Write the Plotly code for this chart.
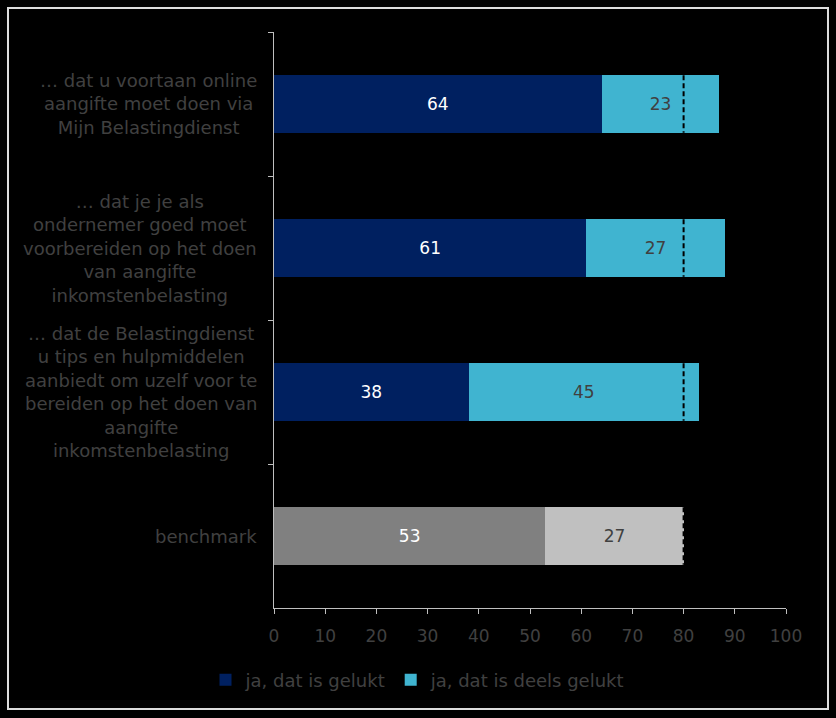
import plotly.graph_objects as go

categories = [
    "… dat u voortaan online<br>aangifte moet doen via<br>Mijn Belastingdienst",
    "… dat je je als<br>ondernemer goed moet<br>voorbereiden op het doen<br>van aangifte<br>inkomstenbelasting",
    "… dat de Belastingdienst<br>u tips en hulpmiddelen<br>aanbiedt om uzelf voor te<br>bereiden op het doen van<br>aangifte<br>inkomstenbelasting",
    "benchmark",
]
gelukt = [64, 61, 38, 53]
deels_gelukt = [23, 27, 45, 27]
series_names = ["ja, dat is gelukt", "ja, dat is deels gelukt"]
x_ticks = [0, 10, 20, 30, 40, 50, 60, 70, 80, 90, 100]

benchmark_total = gelukt[-1] + deels_gelukt[-1]

NAVY = "#002060"
LIGHTBLUE = "#40B4D0"
DGRAY = "#808080"
LGRAY = "#C0C0C0"
TXT = "#404040"
FONT = "DejaVu Sans, Verdana, sans-serif"

fig = go.Figure()
fig.add_trace(go.Bar(
    y=categories, x=gelukt, orientation="h", name=series_names[0],
    marker=dict(color=[NAVY, NAVY, NAVY, DGRAY], line=dict(width=0)),
    text=[str(v) for v in gelukt], textposition="inside", insidetextanchor="middle",
    textfont=dict(color=["white"] * 4, size=17, family=FONT),
    width=0.4,
))
fig.add_trace(go.Bar(
    y=categories, x=deels_gelukt, orientation="h", name=series_names[1],
    marker=dict(color=[LIGHTBLUE, LIGHTBLUE, LIGHTBLUE, LGRAY], line=dict(width=0)),
    text=[str(v) for v in deels_gelukt], textposition="inside", insidetextanchor="middle",
    textfont=dict(color=[TXT] * 4, size=17, family=FONT),
    width=0.4,
))

shapes = []
for i in range(len(categories)):
    shapes.append(dict(type="line", xref="x", yref="y",
                       x0=benchmark_total, x1=benchmark_total, y0=i - 0.2, y1=i + 0.2,
                       line=dict(color="black", width=2, dash="5px,3px")))
# outer border
shapes.append(dict(type="rect", xref="paper", yref="paper",
                   x0=(8 - 274) / 512, x1=(828 - 274) / 512,
                   y0=(608 - 709) / 576, y1=(608 - 8) / 576,
                   line=dict(color="#DDDDDD", width=2), layer="above"))

annotations = []
for c in categories:
    annotations.append(dict(xref="paper", yref="y", x=-0.029, y=c,
                            text=c, showarrow=False, xanchor="right", yanchor="middle",
                            align="center", font=dict(size=18, color=TXT, family=FONT)))

fig.update_layout(
    barmode="stack",
    width=836, height=718,
    paper_bgcolor="black", plot_bgcolor="black",
    margin=dict(l=274, r=50, t=32, b=110),
    font=dict(family=FONT, size=17, color=TXT),
    shapes=shapes,
    annotations=annotations,
    showlegend=True,
    legend=dict(orientation="h", xref="container", x=0.5, xanchor="center",
                yref="container", y=1 - 680 / 718, yanchor="middle",
                font=dict(size=18, color=TXT, family=FONT), traceorder="normal"),
    bargap=0.6,
)
fig.update_xaxes(range=[0, 100], tickvals=x_ticks, showgrid=False, zeroline=False,
                 showline=True, linecolor="#BFBFBF", linewidth=1,
                 ticks="outside", ticklen=5, tickcolor="#BFBFBF", ticklabelstandoff=8,
                 tickfont=dict(size=17, color=TXT, family=FONT))
fig.update_yaxes(type="category", autorange="reversed", showgrid=False, zeroline=False,
                 showline=True, linecolor="#BFBFBF", linewidth=1,
                 ticks="outside", ticklen=5, tickcolor="#BFBFBF", tickson="boundaries",
                 showticklabels=False, range=[3.5, -0.5])

fig.write_html("out.html", config={"displayModeBar": False},
               post_script="document.body.style.margin='0';document.body.style.background='black';")
